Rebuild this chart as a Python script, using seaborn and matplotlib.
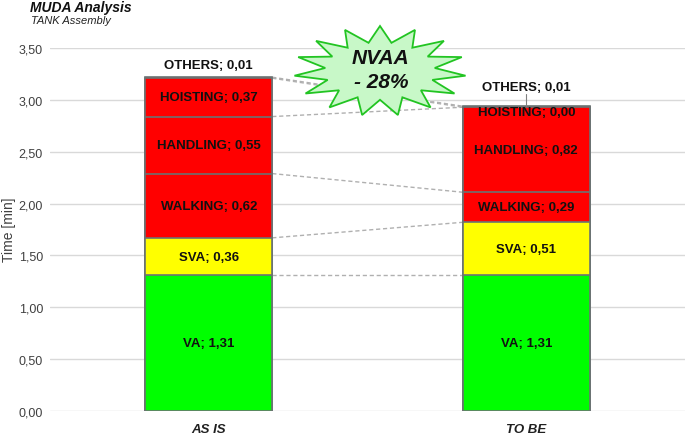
import numpy as np
import pandas as pd
import matplotlib
matplotlib.use("Agg")
import matplotlib.pyplot as plt
import seaborn as sns
from matplotlib.patches import Polygon

stages = ["AS IS", "TO BE"]
categories = ["VA", "SVA", "WALKING", "HANDLING", "HOISTING", "OTHERS"]
as_is = [1.31, 0.36, 0.62, 0.55, 0.37, 0.01]
to_be = [1.31, 0.51, 0.29, 0.82, 0.00, 0.01]
colors = ["#00ff00", "#ffff00", "#ff0000", "#ff0000", "#ff0000", "#ff0000"]
yticks = [0, 0.5, 1.0, 1.5, 2.0, 2.5, 3.0, 3.5]

sns.set_theme(style="white")
plt.rcParams["font.family"] = ["Liberation Sans", "DejaVu Sans"]

df = pd.DataFrame({"stage": np.repeat(stages, len(categories)),
                   "category": categories * 2,
                   "value": as_is + to_be})
df["cum"] = df.groupby("stage")["value"].cumsum()
df["base"] = df["cum"] - df["value"]

fig = plt.figure(figsize=(6.85, 4.35), dpi=100)
ax = fig.add_axes([0.073, 0.053, 0.927, 0.834])

# stacked bars: draw cumulative heights from top layer down
for cat, col in reversed(list(zip(categories, colors))):
    sub = df[df["category"] == cat]
    sns.barplot(data=sub, x="stage", y="cum", order=stages, color=col,
                saturation=1, width=0.4, edgecolor="#6b7373", linewidth=1.2,
                ax=ax)

ax.set_ylim(0, 3.5)
ax.set_xlim(-0.5, 1.5)
ax.set_yticks(yticks)
ax.set_yticklabels([f"{t:.2f}".replace(".", ",") for t in yticks],
                   color="#404040", fontsize=9)
ax.yaxis.grid(True, color="#d9d9d9", linewidth=1)
ax.set_axisbelow(True)
for s in ax.spines.values():
    s.set_visible(False)
ax.tick_params(axis="y", length=0, pad=5)
ax.tick_params(axis="x", length=0, pad=9)
ax.set_xticks([0, 1])
ax.set_xticklabels(stages, fontsize=9.5, fontweight="bold", style="italic",
                   color="#202020")
ax.set_xlabel("")
ax.set_ylabel("")
fig.text(9 / 685, 1 - 230 / 435, "Time [min]", rotation=90, ha="center",
         va="center", color="#404040", fontsize=10)

# segment labels
for i, st in enumerate(stages):
    sub = df[df["stage"] == st]
    for _, r in sub.iterrows():
        txt = f"{r['category']}; {r['value']:.2f}".replace(".", ",")
        if r["category"] == "OTHERS":
            y = r["cum"] + (0.12 if i == 0 else 0.19)
            ax.text(i, y, txt, ha="center", va="center", fontsize=9.5,
                    fontweight="bold", color="#111111")
            if i == 1:
                ax.plot([i, i], [r["cum"], y - 0.07], color="#808080", lw=0.8)
        else:
            y = r["base"] + r["value"] / 2
            if r["value"] == 0:
                y -= 0.05
            ax.text(i, y, txt, ha="center", va="center", fontsize=9.5,
                    fontweight="bold", color="#111111")

# dashed connectors between segment boundaries
a_tops = df[df["stage"] == "AS IS"]["cum"].values
b_tops = df[df["stage"] == "TO BE"]["cum"].values
for ya, yb in zip(a_tops, b_tops):
    ax.plot([0.2, 0.8], [ya, yb], color="#b0b0b0", lw=1, ls=(0, (3, 2)),
            zorder=0.5)

# star callout
cx, cy = 380 / 685, 1 - 72 / 435
n = 15
ang = np.linspace(0, 2 * np.pi, 2 * n, endpoint=False) + np.pi / 2
rad = np.where(np.arange(2 * n) % 2 == 0, 1.0, 0.64)
px = cx + rad * np.cos(ang) * 86 / 685
py = cy + rad * np.sin(ang) * 45 / 435
star = Polygon(np.column_stack([px, py]), closed=True, transform=fig.transFigure,
               facecolor="#c8f8c8", edgecolor="#22c422", linewidth=1.3)
fig.patches.append(star)
fig.text(381 / 685, 1 - 58 / 435, "NVAA", ha="center", va="center",
         fontsize=15, fontweight="bold", style="italic", color="#111111")
fig.text(381 / 685, 1 - 83 / 435, "- 28%", ha="center", va="center",
         fontsize=15, fontweight="bold", style="italic", color="#111111")

fig.text(30 / 685, 1 - 8 / 435, "MUDA Analysis", ha="left", va="center",
         fontsize=10, fontweight="bold", style="italic", color="#111111")
fig.text(31 / 685, 1 - 21 / 435, "TANK Assembly", ha="left", va="center",
         fontsize=8, style="italic", color="#222222")

fig.savefig("out.png", dpi=100)
